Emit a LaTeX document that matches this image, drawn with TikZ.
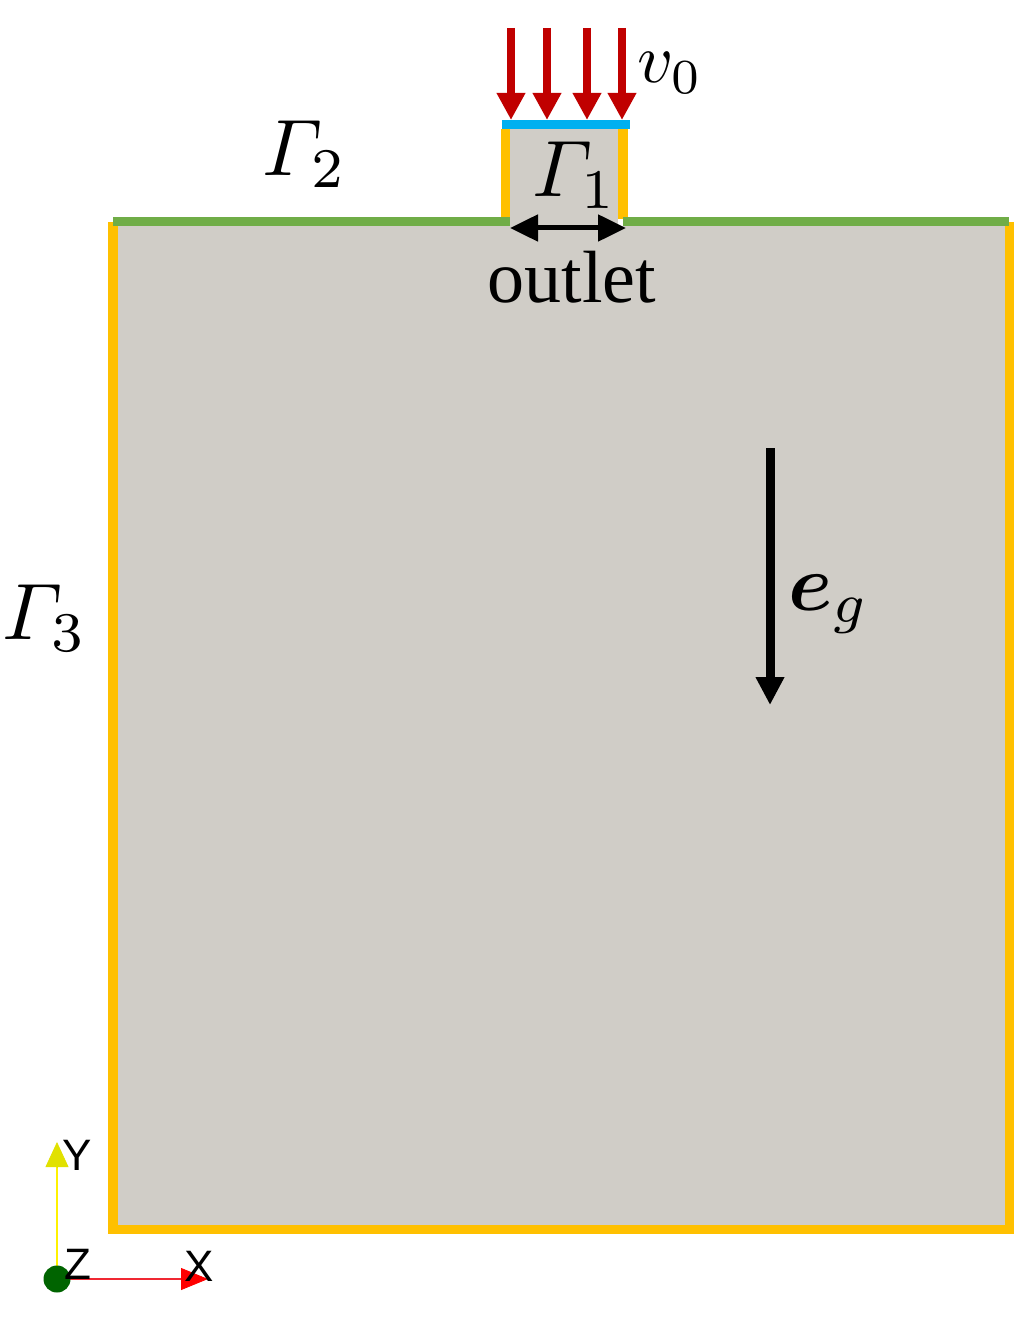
\documentclass[tikz,border=0pt]{standalone}
\usepackage{amsmath}
\usepackage{fontspec}
\setmainfont{Liberation Serif}
\setsansfont{Liberation Sans}
\usetikzlibrary{arrows.meta,positioning}
\definecolor{fluidgray}{RGB}{208,205,199}
\definecolor{wallyellow}{RGB}{255,192,0}
\definecolor{topgreen}{RGB}{112,173,71}
\definecolor{inletblue}{RGB}{0,176,240}
\definecolor{inflowred}{RGB}{192,0,0}
\definecolor{origingreen}{RGB}{0,100,0}
\definecolor{yaxisyellow}{RGB}{225,225,0}
\definecolor{xaxisred}{RGB}{240,40,50}
\tikzset{
  basic/.style     = {inner sep=0pt, outer sep=0pt},
  mathlabel/.style = {basic, scale=4.0, transform shape},
  vlabel/.style    = {basic, scale=3.5, transform shape},
  wordlabel/.style = {basic, font=\fontsize{37}{44}\selectfont},
  axislabel/.style = {basic, font=\sffamily\fontsize{22}{26}\selectfont},
  fluid/.style     = {fill=fluidgray},
  wall/.style      = {fill=wallyellow},
  topwall/.style   = {fill=topgreen},
  inlet/.style     = {fill=inletblue},
  inflow/.style    = {inflowred, line width=4pt,
                      -{Triangle[length=13.5pt,width=13.5pt]}},
  gravity/.style   = {black, line width=4.5pt,
                      -{Triangle[length=14pt,width=13.5pt]}},
  outletarrow/.style = {black, line width=2.5pt,
                      {Triangle[length=14pt,width=13pt]}-{Triangle[length=14pt,width=13pt]}}
}

\begin{document}
\begin{tikzpicture}[x=0.5pt, y=-0.5pt]
  \useasboundingbox (0,0) rectangle (1034,1336);

  % the fluid region and the inlet channel
  \fill[fluid] (118,226) rectangle (1005,1225);
  \fill[fluid] (510,129) rectangle (618,226);

  % boundaries: walls, top surface, inlet
  \fill[wall] (108,222) rectangle (118,1234);
  \fill[wall] (1005,222) rectangle (1014,1234);
  \fill[wall] (108,1225) rectangle (1014,1234);
  \fill[wall] (501,129) rectangle (510,219);
  \fill[wall] (618,129) rectangle (628,219);
  \fill[topwall] (113,217) rectangle (510,226);
  \fill[topwall] (623,217) rectangle (1009,226);
  \fill[inlet] (502,120) rectangle (630,129);

  % inflow velocity arrows
  \foreach \i/\x in {1/511,2/547,3/587,4/622}{
    \coordinate (vtop\i) at (\x,28);
    \coordinate (vtip\i) at (\x,120);
    \draw[inflow] (vtop\i) -- (vtip\i);
  }
  \node[vlabel] (v0) at (670,73) {$v_0$};

  % boundary labels
  \node[mathlabel] (g1) at (575,175) {$\varGamma_1$};
  \node[mathlabel] (g2) at (305,154) {$\varGamma_2$};
  \node[mathlabel] (g3) at (45,618) {$\varGamma_3$};

  % outlet width
  \coordinate (outL) at (510,228);
  \coordinate (outR) at (626,228);
  \draw[outletarrow] (outL) -- (outR);
  \node[wordlabel] (outlet) at (572,277) {outlet};

  % gravity direction
  \coordinate (gtop) at (770,448);
  \coordinate (gtip) at (770,705);
  \draw[gravity] (gtop) -- (gtip);
  \node[mathlabel] (eg) at (829,604) {$\boldsymbol{e}_g$};

  % axes triad
  \coordinate (origin) at (57,1279);
  \coordinate (ytip) at (57,1142);
  \coordinate (xtip) at (208,1279);
  \draw[yellow, line width=1pt] (origin) -- (57,1166);
  \draw[xaxisred, line width=1pt] (origin) -- (182,1279);
  \draw[yaxisyellow, line width=0.4pt, fill=yaxisyellow,
        -{Triangle[length=12.5pt,width=11.5pt]}] (57,1168) -- (ytip);
  \draw[red, line width=0.4pt,
        -{Triangle[length=13.5pt,width=11pt]}] (182,1279) -- (xtip);
  \fill[origingreen] (origin) circle (13.5);
  \node[axislabel] (ylab) at (77,1155) {Y};
  \node[axislabel] (zlab) at (78,1264) {Z};
  \node[axislabel] (xlab) at (199,1266) {X};
\end{tikzpicture}
\end{document}
